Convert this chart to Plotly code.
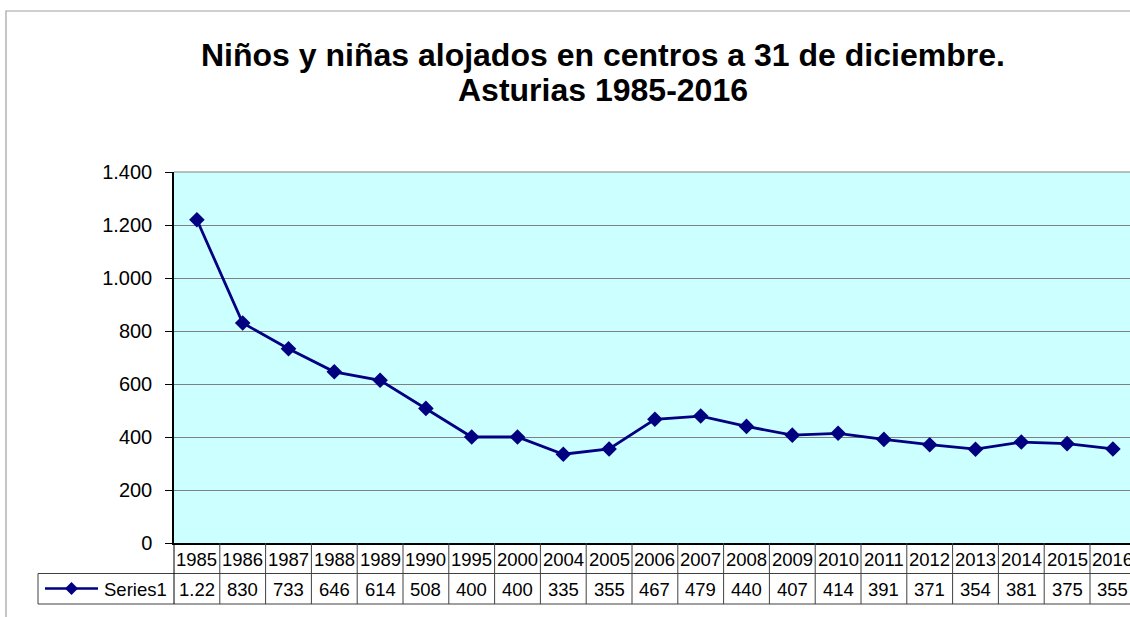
import plotly.graph_objects as go

# ---- data ----
years = ["1985", "1986", "1987", "1988", "1989", "1990", "1995", "2000", "2004", "2005",
         "2006", "2007", "2008", "2009", "2010", "2011", "2012", "2013", "2014", "2015", "2016"]
values = [1220, 830, 733, 646, 614, 508, 400, 400, 335, 355,
          467, 479, 440, 407, 414, 391, 371, 354, 381, 375, 355]
table_labels = ["1.22", "830", "733", "646", "614", "508", "400", "400", "335", "355",
                "467", "479", "440", "407", "414", "391", "371", "354", "381", "375", "355"]
series_name = "Series1"
title_lines = ["Niños y niñas alojados en centros a 31 de diciembre.", "Asturias 1985-2016"]
y_ticks = [0, 200, 400, 600, 800, 1000, 1200, 1400]

# ---- geometry (pixels) ----
W, H = 1130, 617
L, T, B_PIX = 174, 172, 543
PW = W - L
PH = B_PIX - T
FONT = "Liberation Sans, Arial, sans-serif"
NAVY = "#000080"
TXT = 18.5


def px_x(px):
    return (px - L) / PW


def px_y(py):
    return (B_PIX - py) / PH


xs = list(range(len(years)))

fig = go.Figure()
fig.add_trace(go.Scatter(
    x=xs, y=values, mode="lines+markers", name=series_name,
    line=dict(color=NAVY, width=2.8),
    marker=dict(symbol="diamond", size=12, color=NAVY),
    cliponaxis=False, showlegend=False, hoverinfo="x+y",
))

shapes = []
annotations = []

# outer chart border
shapes.append(dict(type="rect", xref="paper", yref="paper",
                   x0=px_x(6), x1=px_x(1300), y0=px_y(700), y1=px_y(11),
                   line=dict(color="#A0A0A0", width=1.2), layer="below"))
# top border of plot area
shapes.append(dict(type="line", xref="paper", yref="paper", x0=0, x1=1, y0=1, y1=1,
                   line=dict(color="#808080", width=1.2)))

# table lines
row1_bot = px_y(573.5)
row2_bot = px_y(604)
line_col = "#404040"
shapes.append(dict(type="line", xref="paper", yref="paper", x0=px_x(38), x1=1.2,
                   y0=row1_bot, y1=row1_bot, line=dict(color=line_col, width=1)))
shapes.append(dict(type="line", xref="paper", yref="paper", x0=px_x(38), x1=1.2,
                   y0=row2_bot, y1=row2_bot, line=dict(color=line_col, width=1)))
shapes.append(dict(type="line", xref="paper", yref="paper", x0=px_x(38), x1=px_x(38),
                   y0=row1_bot, y1=row2_bot, line=dict(color=line_col, width=1)))
shapes.append(dict(type="line", xref="paper", yref="paper", x0=0, x1=0,
                   y0=0, y1=row2_bot, line=dict(color="#000000", width=1)))
for i in range(1, len(years) + 1):
    shapes.append(dict(type="line", xref="x", yref="paper", x0=i - 0.5, x1=i - 0.5,
                       y0=0, y1=row2_bot, line=dict(color=line_col, width=1)))

for i, (yr, lab) in enumerate(zip(years, table_labels)):
    annotations.append(dict(x=i, y=px_y(559), xref="x", yref="paper", text=yr,
                            showarrow=False, xanchor="center", yanchor="middle",
                            font=dict(family=FONT, size=TXT, color="black")))
    annotations.append(dict(x=i, y=px_y(589.5), xref="x", yref="paper", text=lab,
                            showarrow=False, xanchor="center", yanchor="middle",
                            font=dict(family=FONT, size=TXT, color="black")))

# legend key in table
ky = px_y(588.5)
shapes.append(dict(type="line", xref="paper", yref="paper", x0=px_x(45), x1=px_x(98),
                   y0=ky, y1=ky, line=dict(color=NAVY, width=2.5)))
cx, cy, r = 71.5, 588.5, 6.5
shapes.append(dict(type="path", xref="paper", yref="paper",
                   path=f"M {px_x(cx - r)},{px_y(cy)} L {px_x(cx)},{px_y(cy - r)} "
                        f"L {px_x(cx + r)},{px_y(cy)} L {px_x(cx)},{px_y(cy + r)} Z",
                   fillcolor=NAVY, line=dict(color=NAVY, width=0)))
annotations.append(dict(x=px_x(102), y=px_y(589.5), xref="paper", yref="paper",
                        text=series_name, showarrow=False, xanchor="left", yanchor="middle",
                        font=dict(family=FONT, size=TXT, color="black")))

# title
for text, cyp in zip(title_lines, [55, 90]):
    annotations.append(dict(x=px_x(603), y=px_y(cyp), xref="paper", yref="paper",
                            text=f"<b>{text}</b>", showarrow=False,
                            xanchor="center", yanchor="middle",
                            font=dict(family=FONT, size=32, color="black")))

fig.update_layout(
    width=W, height=H,
    margin=dict(l=L, r=0, t=T, b=H - B_PIX, pad=0),
    paper_bgcolor="white", plot_bgcolor="#CCFFFF",
    separators=",.",
    showlegend=False,
    shapes=shapes, annotations=annotations,
    xaxis=dict(range=[-0.5, -0.5 + PW / 45.8], showticklabels=False, showgrid=False,
               zeroline=False, showline=True, linecolor="black", linewidth=1.5,
               ticks="", fixedrange=True),
    yaxis=dict(range=[0, 1400], tickvals=y_ticks, tickformat=",d",
               showgrid=True, gridcolor="#808080", gridwidth=1,
               zeroline=False, showline=True, linecolor="black", linewidth=1.5,
               ticks="outside", ticklen=7, tickcolor="black", tickwidth=1,
               ticklabelstandoff=9,
               tickfont=dict(family=FONT, size=20, color="black"), fixedrange=True),
)

# the page body's default 8px margin would shift the figure; remove it
fig.write_html(
    "out.html",
    config={"displayModeBar": False},
    post_script="document.body.style.margin='0';document.body.style.overflow='hidden';",
)
